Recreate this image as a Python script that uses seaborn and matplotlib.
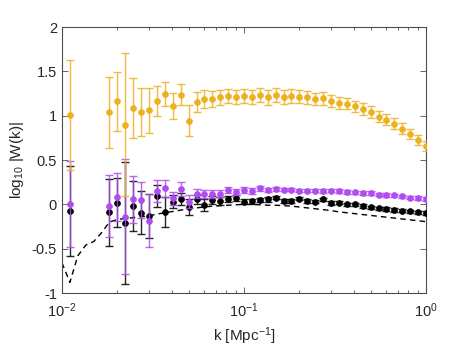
import numpy as np
import pandas as pd
import seaborn as sns
import matplotlib
matplotlib.use("Agg")
import matplotlib.pyplot as plt

# k grid (Mpc^-1), log-spaced
k_grid = [0.01000, 0.01105, 0.01222, 0.01351, 0.01493, 0.01650, 0.01823, 0.02016,
          0.02228, 0.02462, 0.02722, 0.03009, 0.03325, 0.03675, 0.04063, 0.04491,
          0.04964, 0.05486, 0.06064, 0.06703, 0.07409, 0.08190, 0.09052, 0.1000,
          0.1106, 0.1222, 0.1351, 0.1493, 0.1650, 0.1823, 0.2016, 0.2228,
          0.2462, 0.2722, 0.3009, 0.3325, 0.3675, 0.4063, 0.4491, 0.4964,
          0.5486, 0.6064, 0.6703, 0.7409, 0.8190, 0.9052, 1.0000]

# dashed model curve on the full grid
model = [-0.66, -0.88, -0.58, -0.46, -0.42, -0.32, -0.20, -0.17, -0.16, -0.15,
         -0.14, -0.13, -0.11, -0.095, -0.08, -0.065, -0.05, -0.04, -0.03, -0.02,
         -0.015, -0.01, -0.005, 0.0, 0.0, -0.005, -0.01, -0.01, -0.015, -0.02,
         -0.03, -0.04, -0.05, -0.06, -0.07, -0.085, -0.095, -0.105, -0.115, -0.125,
         -0.135, -0.145, -0.155, -0.165, -0.175, -0.185, -0.195]

# measured points sit on grid index 1 and 6..46
k_pts = [k_grid[1]] + k_grid[6:]

orange = [1.01, 1.04, 1.16, 0.90, 1.09, 1.04, 1.06, 1.165, 1.245, 1.11,
          1.235, 0.945, 1.155, 1.185, 1.19, 1.21, 1.225, 1.215, 1.22, 1.215,
          1.23, 1.205, 1.235, 1.215, 1.22, 1.215, 1.205, 1.19, 1.195, 1.165,
          1.145, 1.135, 1.105, 1.075, 1.04, 0.99, 0.955, 0.91, 0.855, 0.795,
          0.725, 0.66]
orange_err = [0.62, 0.40, 0.335, 0.81, 0.34, 0.27, 0.25, 0.17, 0.14, 0.15,
              0.12, 0.17, 0.11, 0.10, 0.09, 0.085, 0.08, 0.08, 0.08, 0.08,
              0.08, 0.08, 0.08, 0.08, 0.08, 0.07, 0.07, 0.07, 0.07, 0.07,
              0.07, 0.065, 0.065, 0.065, 0.065, 0.065, 0.065, 0.065, 0.065, 0.06,
              0.06, 0.06]

purple = [0.00, -0.02, 0.085, -0.14, 0.055, 0.05, -0.185, 0.15, 0.18, 0.068,
          0.17, 0.03, 0.12, 0.117, 0.113, 0.12, 0.16, 0.14, 0.16, 0.15,
          0.18, 0.16, 0.17, 0.165, 0.165, 0.155, 0.155, 0.155, 0.15, 0.155,
          0.15, 0.14, 0.135, 0.13, 0.125, 0.11, 0.105, 0.10, 0.09, 0.075,
          0.07, 0.06]
purple_err = [0.485, 0.35, 0.27, 0.65, 0.27, 0.20, 0.30, 0.12, 0.095, 0.07,
              0.08, 0.07, 0.05, 0.05, 0.045, 0.04, 0.035, 0.035, 0.03, 0.03,
              0.03, 0.025, 0.025, 0.02, 0.02, 0.02, 0.02, 0.02, 0.02, 0.02,
              0.02, 0.02, 0.02, 0.02, 0.02, 0.02, 0.02, 0.02, 0.02, 0.02,
              0.02, 0.02]

black = [-0.075, -0.09, 0.02, -0.21, -0.02, -0.095, -0.13, 0.094, -0.083, 0.03,
         0.06, -0.027, 0.055, -0.007, 0.049, 0.038, 0.06, 0.07, 0.03, 0.035,
         0.05, 0.055, 0.075, 0.04, 0.04, 0.065, 0.04, 0.03, 0.055, 0.015,
         0.02, 0.0, 0.0, -0.02, -0.035, -0.045, -0.05, -0.065, -0.07, -0.08,
         -0.09, -0.095]
black_err = [0.51, 0.375, 0.28, 0.69, 0.28, 0.245, 0.25, 0.125, 0.17, 0.07,
             0.07, 0.09, 0.05, 0.07, 0.05, 0.04, 0.035, 0.03, 0.03, 0.03,
             0.025, 0.025, 0.02, 0.02, 0.02, 0.02, 0.02, 0.02, 0.02, 0.02,
             0.02, 0.02, 0.02, 0.02, 0.02, 0.02, 0.02, 0.02, 0.02, 0.02,
             0.02, 0.02]

c_orange = "#EDB120"
c_purple = "#B04CF2"
c_black = "#000000"

sns.set_style("ticks")
plt.rcParams["font.family"] = ["Liberation Sans", "DejaVu Sans"]
plt.rcParams["mathtext.fontset"] = "custom"
plt.rcParams["mathtext.rm"] = "Liberation Sans"
plt.rcParams["mathtext.it"] = "Liberation Sans:italic"

fig = plt.figure(figsize=(4.71, 3.48), dpi=100)
ax = fig.add_axes([0.1316, 0.158, 0.7729, 0.7644])

df_model = pd.DataFrame({"k": k_grid, "w": model})
sns.lineplot(data=df_model, x="k", y="w", ax=ax, color="black", lw=1.0,
             linestyle=(0, (4, 3)), zorder=1)

series = [(black, black_err, c_black), (purple, purple_err, c_purple),
          (orange, orange_err, c_orange)]
z = 2
for vals, errs, col in series:
    ax.errorbar(k_pts, vals, yerr=errs, fmt="none", ecolor=col, elinewidth=1.0,
                capsize=3, capthick=1.0, alpha=0.85, zorder=z)
    df = pd.DataFrame({"k": k_pts, "w": vals})
    sns.scatterplot(data=df, x="k", y="w", ax=ax, color=col, s=18,
                    edgecolor=col, linewidth=0.5, zorder=z + 1)
    z += 2

ax.set_xscale("log")
ax.set_xlim(0.01, 1.0)
ax.set_ylim(-1, 2)
ax.set_yticks([-1, -0.5, 0, 0.5, 1, 1.5, 2])
ax.set_yticklabels(["-1", "-0.5", "0", "0.5", "1", "1.5", "2"])
ax.set_xticks([0.01, 0.1, 1.0])
ax.set_xticklabels([r"$10^{-2}$", r"$10^{-1}$", r"$10^{0}$"])

ax.set_xlabel(r"k [Mpc$^{-1}$]", fontsize=11, color="#262626")
ax.set_ylabel(r"log$_{10}$ |W(k)|", fontsize=11, color="#262626")

for sp in ax.spines.values():
    sp.set_color("#4d4d4d")
    sp.set_linewidth(0.8)
ax.tick_params(which="both", direction="in", top=True, right=True,
               color="#4d4d4d", labelsize=10.5, labelcolor="#262626", width=0.6)
ax.tick_params(which="major", length=4)
ax.tick_params(which="minor", length=2.5)
ax.tick_params(axis="x", which="major", pad=6)

fig.savefig("out.png", dpi=100)
